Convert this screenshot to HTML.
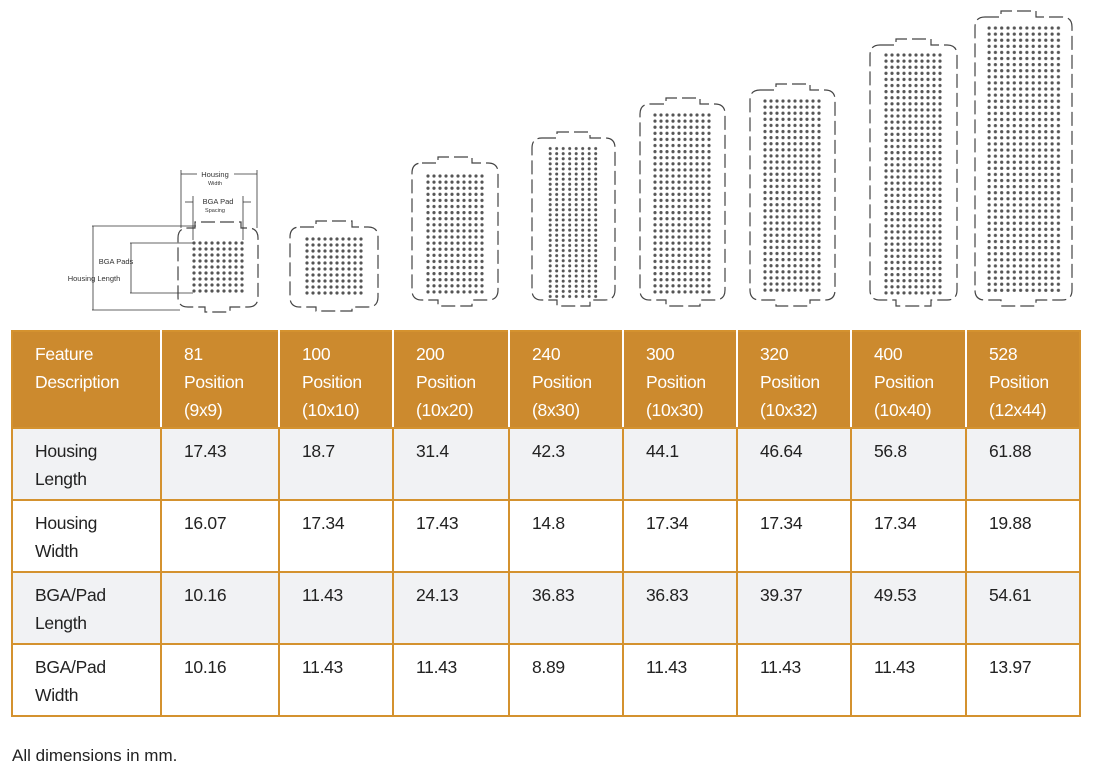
<!DOCTYPE html>
<html><head><meta charset="utf-8"><style>
body{margin:0;width:1103px;height:778px;background:#fff;position:relative;overflow:hidden;font-family:"Liberation Sans",sans-serif;}
svg{position:absolute;left:0;top:0}
table{position:absolute;left:11px;top:330px;border-collapse:collapse;table-layout:fixed;width:1068px;font-size:17.5px;line-height:28px;letter-spacing:-0.3px}
td{border:2px solid #d4922f;vertical-align:top;padding:8px 0 0 22px;color:#222;}
tr.h td{background:#cc8a2e;color:#fff;border-left-color:#fff;border-right-color:#fff;height:87px;padding-top:8px}
tr.h td:first-child{border-left-color:#d4922f}
tr.h td:last-child{border-right-color:#d4922f}
tr.g td{background:#f1f2f4}
tr.b td{height:62px}
.foot{position:absolute;left:12px;top:746px;font-size:17px;color:#222}
</style></head><body>
<svg width="1103" height="330" viewBox="0 0 1103 330">
<defs>
<pattern id="p1" patternUnits="userSpaceOnUse" x="191" y="240" width="6" height="6"><circle cx="3" cy="3" r="1.6" fill="#555"/></pattern>
<pattern id="p2" patternUnits="userSpaceOnUse" x="304" y="236" width="6" height="6"><circle cx="3" cy="3" r="1.6" fill="#555"/></pattern>
<pattern id="p3" patternUnits="userSpaceOnUse" x="425" y="173" width="6" height="6.1"><circle cx="3" cy="3" r="1.6" fill="#555"/></pattern>
<pattern id="p4" patternUnits="userSpaceOnUse" x="547" y="146" width="6.5" height="5.1"><circle cx="3.2" cy="2.5" r="1.5" fill="#555"/></pattern>
<pattern id="p5" patternUnits="userSpaceOnUse" x="652" y="112" width="6" height="6.1"><circle cx="3" cy="3" r="1.6" fill="#555"/></pattern>
<pattern id="p6" patternUnits="userSpaceOnUse" x="762" y="98" width="6" height="6.1"><circle cx="3" cy="3" r="1.6" fill="#555"/></pattern>
<pattern id="p7" patternUnits="userSpaceOnUse" x="883" y="52" width="6" height="6.1"><circle cx="3" cy="3" r="1.6" fill="#555"/></pattern>
<pattern id="p8" patternUnits="userSpaceOnUse" x="986" y="25" width="6.3" height="6.1"><circle cx="3.1" cy="3" r="1.6" fill="#555"/></pattern>
</defs>
<g fill="none" stroke="#444" stroke-width="1.2" stroke-dasharray="14 5">
<path d="M188 228 H195 V222 H241 V228 H248 Q258 228 258 238 V297 Q258 307 248 307 H230 V312 H205 V307 H188 Q178 307 178 297 V238 Q178 228 188 228 Z"/>
<path d="M300 227 H316 V221 H352 V227 H368 Q378 227 378 237 V297 Q378 307 368 307 H352 V311 H316 V307 H300 Q290 307 290 297 V237 Q290 227 300 227 Z"/>
<path d="M422 163 H438 V157 H472 V163 H488 Q498 163 498 173 V290 Q498 300 488 300 H472 V306 H438 V300 H422 Q412 300 412 290 V173 Q412 163 422 163 Z"/>
<path d="M542 138 H557 V132 H590 V138 H605 Q615 138 615 148 V290 Q615 300 605 300 H590 V306 H557 V300 H542 Q532 300 532 290 V148 Q532 138 542 138 Z"/>
<path d="M650 104 H666 V98 H700 V104 H715 Q725 104 725 114 V290 Q725 300 715 300 H700 V306 H666 V300 H650 Q640 300 640 290 V114 Q640 104 650 104 Z"/>
<path d="M760 90 H776 V84 H810 V90 H825 Q835 90 835 100 V290 Q835 300 825 300 H810 V306 H776 V300 H760 Q750 300 750 290 V100 Q750 90 760 90 Z"/>
<path d="M880 45 H896 V39 H931 V45 H947 Q957 45 957 55 V290 Q957 300 947 300 H931 V306 H896 V300 H880 Q870 300 870 290 V55 Q870 45 880 45 Z"/>
<path d="M985 17 H1001 V11 H1036 V17 H1062 Q1072 17 1072 27 V290 Q1072 300 1062 300 H1036 V306 H1001 V300 H985 Q975 300 975 290 V27 Q975 17 985 17 Z"/>
</g>
<rect x="191" y="240" width="54" height="54" fill="url(#p1)"/>
<rect x="304" y="236" width="60" height="60" fill="url(#p2)"/>
<rect x="425" y="173" width="60" height="122" fill="url(#p3)"/>
<rect x="547" y="146" width="52" height="153" fill="url(#p4)"/>
<rect x="652" y="112" width="60" height="183" fill="url(#p5)"/>
<rect x="762" y="98" width="60" height="195" fill="url(#p6)"/>
<rect x="883" y="52" width="60" height="244" fill="url(#p7)"/>
<rect x="986" y="25" width="75.6" height="268" fill="url(#p8)"/>
<g stroke="#333" stroke-width="0.8" fill="none">
<line x1="181" y1="170" x2="181" y2="228"/><line x1="257" y1="170" x2="257" y2="228"/>
<line x1="181" y1="174" x2="197" y2="174"/><line x1="234" y1="174" x2="257" y2="174"/>
<line x1="193" y1="196" x2="193" y2="240"/><line x1="243" y1="196" x2="243" y2="240"/>
<line x1="185" y1="202" x2="193" y2="202"/><line x1="243" y1="202" x2="251" y2="202"/>
<line x1="92" y1="226" x2="196" y2="226"/><line x1="92" y1="310" x2="180" y2="310"/>
<line x1="93" y1="226" x2="93" y2="310"/>
<line x1="130" y1="243" x2="193" y2="243"/><line x1="130" y1="293" x2="193" y2="293"/>
<line x1="131" y1="243" x2="131" y2="293"/>
</g>
<g font-family="Liberation Sans, sans-serif" fill="#333" text-anchor="middle">
<text x="215" y="177" font-size="7.5">Housing</text><text x="215" y="185" font-size="5.5">Width</text>
<text x="218" y="204" font-size="7.5">BGA Pad</text><text x="215" y="212" font-size="5.5">Spacing</text>
<text x="116" y="264" font-size="7.5">BGA Pads</text>
<text x="94" y="281" font-size="7.5">Housing Length</text>
</g>
</svg>
<table>
<colgroup><col style="width:149px"><col style="width:118px"><col style="width:114px"><col style="width:116px"><col style="width:114px"><col style="width:114px"><col style="width:114px"><col style="width:115px"><col style="width:114px"></colgroup>
<tr class="h"><td>Feature<br>Description</td><td>81<br>Position<br>(9x9)</td><td>100<br>Position<br>(10x10)</td><td>200<br>Position<br>(10x20)</td><td>240<br>Position<br>(8x30)</td><td>300<br>Position<br>(10x30)</td><td>320<br>Position<br>(10x32)</td><td>400<br>Position<br>(10x40)</td><td>528<br>Position<br>(12x44)</td></tr>
<tr class="g b"><td>Housing<br>Length</td><td>17.43</td><td>18.7</td><td>31.4</td><td>42.3</td><td>44.1</td><td>46.64</td><td>56.8</td><td>61.88</td></tr>
<tr class="b"><td>Housing<br>Width</td><td>16.07</td><td>17.34</td><td>17.43</td><td>14.8</td><td>17.34</td><td>17.34</td><td>17.34</td><td>19.88</td></tr>
<tr class="g b"><td>BGA/Pad<br>Length</td><td>10.16</td><td>11.43</td><td>24.13</td><td>36.83</td><td>36.83</td><td>39.37</td><td>49.53</td><td>54.61</td></tr>
<tr class="b"><td>BGA/Pad<br>Width</td><td>10.16</td><td>11.43</td><td>11.43</td><td>8.89</td><td>11.43</td><td>11.43</td><td>11.43</td><td>13.97</td></tr>
</table>
<div class="foot">All dimensions in mm.</div>
</body></html>
